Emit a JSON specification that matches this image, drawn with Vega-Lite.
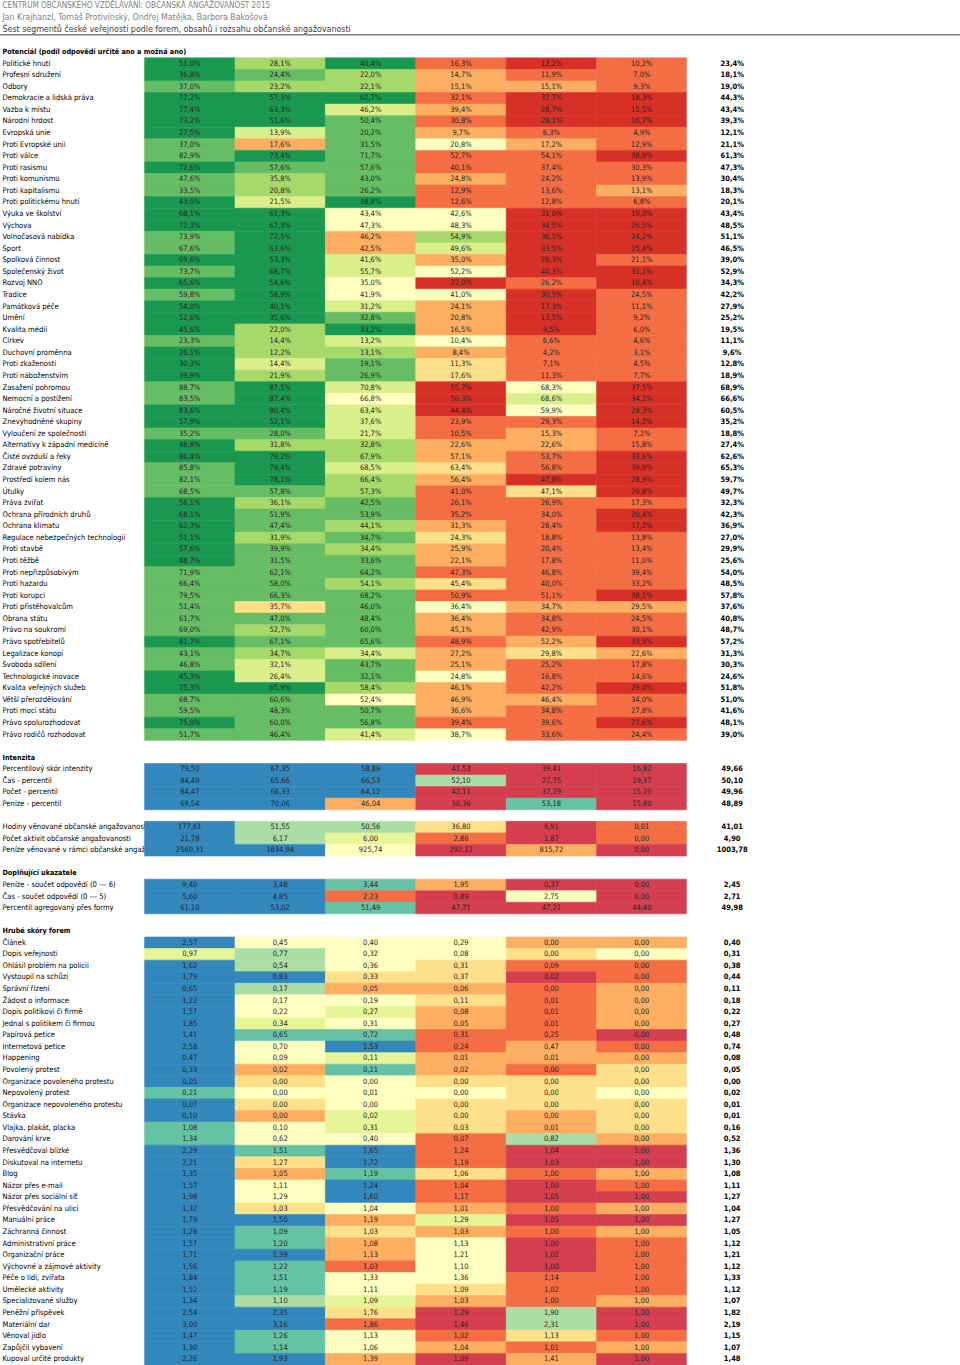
{
  "$schema": "https://vega.github.io/schema/vega-lite/v6.json",
  "width": 960,
  "height": 1365,
  "padding": 0,
  "autosize": {"type": "none"},
  "background": "#ffffff",
  "config": {
    "view": {"stroke": null},
    "font": "DejaVu Sans Condensed, DejaVu Sans, sans-serif",
    "locale": {"number": {"decimal": ",", "thousands": " ", "grouping": [3], "currency": ["", ""]}}
  },
  "data": {"values": [
    {"l": "CENTRUM OBČANSKÉHO VZDĚLÁVÁNÍ: OBČANSKÁ ANGAŽOVANOST 2015", "g": "h", "s": ["T"], "v": [null], "k": [0]},
    {"l": "Jan Krajhanzl, Tomáš Protivínský, Ondřej Matějka, Barbora Bakošová", "g": "h", "s": ["T"], "v": [null], "k": [0]},
    {"l": "Šest segmentů české veřejnosti podle forem, obsahů i rozsahu občanské angažovanosti", "g": "h", "s": ["T"], "v": [null], "k": [0]},
    {"l": " ", "g": "h", "s": ["T"], "v": [null], "k": [0]},
    {"l": "Potenciál (podíl odpovědí určitě ano a možná ano)", "g": "h", "s": ["T"], "v": [null], "k": [0]},
    {"l": "Politické hnutí", "g": "p", "s": ["A","B","C","D","E","F","T"], "v": [0.510,0.281,0.404,0.163,0.122,0.102,0.234], "k": [9,7,9,2,1,2,0]},
    {"l": "Profesní sdružení", "g": "p", "s": ["A","B","C","D","E","F","T"], "v": [0.368,0.244,0.220,0.147,0.119,0.070,0.181], "k": [9,8,7,3,2,2,0]},
    {"l": "Odbory", "g": "p", "s": ["A","B","C","D","E","F","T"], "v": [0.370,0.232,0.221,0.151,0.151,0.093,0.190], "k": [8,7,7,3,3,2,0]},
    {"l": "Demokracie a lidská práva", "g": "p", "s": ["A","B","C","D","E","F","T"], "v": [0.772,0.573,0.627,0.321,0.327,0.183,0.443], "k": [9,9,9,2,1,1,0]},
    {"l": "Vazba k místu", "g": "p", "s": ["A","B","C","D","E","F","T"], "v": [0.774,0.633,0.462,0.394,0.287,0.155,0.434], "k": [9,9,6,3,1,1,0]},
    {"l": "Národní hrdost", "g": "p", "s": ["A","B","C","D","E","F","T"], "v": [0.732,0.516,0.504,0.308,0.281,0.167,0.393], "k": [9,9,8,2,1,1,0]},
    {"l": "Evropská unie", "g": "p", "s": ["A","B","C","D","E","F","T"], "v": [0.275,0.139,0.202,0.097,0.063,0.049,0.121], "k": [9,6,8,3,2,2,0]},
    {"l": "Proti Evropské unii", "g": "p", "s": ["A","B","C","D","E","F","T"], "v": [0.370,0.176,0.315,0.208,0.172,0.129,0.211], "k": [8,3,8,5,3,2,0]},
    {"l": "Proti válce", "g": "p", "s": ["A","B","C","D","E","F","T"], "v": [0.829,0.734,0.717,0.527,0.541,0.389,0.613], "k": [8,9,8,2,2,1,0]},
    {"l": "Proti rasismu", "g": "p", "s": ["A","B","C","D","E","F","T"], "v": [0.726,0.576,0.576,0.401,0.374,0.303,0.473], "k": [9,8,8,2,2,2,0]},
    {"l": "Proti komunismu", "g": "p", "s": ["A","B","C","D","E","F","T"], "v": [0.476,0.358,0.430,0.248,0.242,0.139,0.304], "k": [8,7,8,3,2,2,0]},
    {"l": "Proti kapitalismu", "g": "p", "s": ["A","B","C","D","E","F","T"], "v": [0.335,0.208,0.262,0.129,0.136,0.131,0.183], "k": [8,7,8,2,2,3,0]},
    {"l": "Proti politickému hnutí", "g": "p", "s": ["A","B","C","D","E","F","T"], "v": [0.430,0.215,0.388,0.126,0.128,0.068,0.201], "k": [9,6,9,2,2,2,0]},
    {"l": "Výuka ve školství", "g": "p", "s": ["A","B","C","D","E","F","T"], "v": [0.681,0.613,0.434,0.426,0.310,0.190,0.434], "k": [9,9,5,5,1,1,0]},
    {"l": "Výchova", "g": "p", "s": ["A","B","C","D","E","F","T"], "v": [0.723,0.673,0.473,0.483,0.345,0.265,0.485], "k": [9,9,5,5,1,1,0]},
    {"l": "Volnočasová nabídka", "g": "p", "s": ["A","B","C","D","E","F","T"], "v": [0.739,0.725,0.462,0.549,0.361,0.242,0.511], "k": [8,9,3,7,1,1,0]},
    {"l": "Sport", "g": "p", "s": ["A","B","C","D","E","F","T"], "v": [0.676,0.636,0.425,0.496,0.335,0.254,0.465], "k": [8,9,3,6,1,1,0]},
    {"l": "Spolková činnost", "g": "p", "s": ["A","B","C","D","E","F","T"], "v": [0.696,0.533,0.416,0.350,0.263,0.211,0.390], "k": [9,9,6,3,1,2,0]},
    {"l": "Společenský život", "g": "p", "s": ["A","B","C","D","E","F","T"], "v": [0.737,0.687,0.557,0.522,0.403,0.311,0.529], "k": [8,9,6,5,1,1,0]},
    {"l": "Rozvoj NNO", "g": "p", "s": ["A","B","C","D","E","F","T"], "v": [0.656,0.546,0.350,0.220,0.262,0.104,0.343], "k": [9,9,5,1,2,1,0]},
    {"l": "Tradice", "g": "p", "s": ["A","B","C","D","E","F","T"], "v": [0.598,0.589,0.419,0.410,0.305,0.245,0.422], "k": [8,9,5,5,1,2,0]},
    {"l": "Památková péče", "g": "p", "s": ["A","B","C","D","E","F","T"], "v": [0.540,0.401,0.312,0.241,0.173,0.111,0.279], "k": [9,9,6,3,1,2,0]},
    {"l": "Umění", "g": "p", "s": ["A","B","C","D","E","F","T"], "v": [0.526,0.356,0.328,0.208,0.135,0.092,0.252], "k": [9,9,8,3,1,2,0]},
    {"l": "Kvalita médií", "g": "p", "s": ["A","B","C","D","E","F","T"], "v": [0.456,0.220,0.332,0.165,0.095,0.060,0.195], "k": [9,7,9,3,1,2,0]},
    {"l": "Církev", "g": "p", "s": ["A","B","C","D","E","F","T"], "v": [0.233,0.144,0.132,0.104,0.066,0.046,0.111], "k": [8,7,6,5,2,2,0]},
    {"l": "Duchovní proměnna", "g": "p", "s": ["A","B","C","D","E","F","T"], "v": [0.261,0.122,0.131,0.084,0.042,0.031,0.096], "k": [9,7,7,3,2,2,0]},
    {"l": "Proti zkaženosti", "g": "p", "s": ["A","B","C","D","E","F","T"], "v": [0.303,0.144,0.191,0.113,0.071,0.045,0.128], "k": [9,6,8,4,2,2,0]},
    {"l": "Proti náboženstvím", "g": "p", "s": ["A","B","C","D","E","F","T"], "v": [0.399,0.219,0.269,0.176,0.113,0.077,0.189], "k": [9,7,8,4,2,2,0]},
    {"l": "Zasažení pohromou", "g": "p", "s": ["A","B","C","D","E","F","T"], "v": [0.887,0.875,0.708,0.557,0.683,0.375,0.689], "k": [8,9,6,1,5,1,0]},
    {"l": "Nemocní a postižení", "g": "p", "s": ["A","B","C","D","E","F","T"], "v": [0.835,0.874,0.668,0.503,0.686,0.342,0.666], "k": [8,9,5,1,6,1,0]},
    {"l": "Náročné životní situace", "g": "p", "s": ["A","B","C","D","E","F","T"], "v": [0.836,0.804,0.634,0.444,0.599,0.283,0.605], "k": [9,9,6,1,5,1,0]},
    {"l": "Znevýhodněné skupiny", "g": "p", "s": ["A","B","C","D","E","F","T"], "v": [0.579,0.521,0.376,0.239,0.293,0.142,0.352], "k": [9,9,6,2,2,1,0]},
    {"l": "Vyloučení ze společnosti", "g": "p", "s": ["A","B","C","D","E","F","T"], "v": [0.352,0.280,0.217,0.105,0.153,0.072,0.188], "k": [8,8,6,2,3,2,0]},
    {"l": "Alternativy k západní medicíně", "g": "p", "s": ["A","B","C","D","E","F","T"], "v": [0.488,0.318,0.328,0.226,0.226,0.158,0.274], "k": [9,7,7,3,3,2,0]},
    {"l": "Čisté ovzduší a řeky", "g": "p", "s": ["A","B","C","D","E","F","T"], "v": [0.864,0.792,0.679,0.571,0.537,0.336,0.626], "k": [9,9,7,3,2,1,0]},
    {"l": "Zdravé potraviny", "g": "p", "s": ["A","B","C","D","E","F","T"], "v": [0.858,0.794,0.685,0.634,0.568,0.399,0.653], "k": [8,9,6,4,2,1,0]},
    {"l": "Prostředí kolem nás", "g": "p", "s": ["A","B","C","D","E","F","T"], "v": [0.821,0.781,0.664,0.564,0.478,0.289,0.597], "k": [8,9,7,3,1,1,0]},
    {"l": "Útulky", "g": "p", "s": ["A","B","C","D","E","F","T"], "v": [0.685,0.578,0.573,0.410,0.471,0.298,0.497], "k": [8,8,7,2,4,1,0]},
    {"l": "Práva zvířat", "g": "p", "s": ["A","B","C","D","E","F","T"], "v": [0.561,0.361,0.425,0.261,0.269,0.173,0.323], "k": [9,7,8,2,2,2,0]},
    {"l": "Ochrana přírodních druhů", "g": "p", "s": ["A","B","C","D","E","F","T"], "v": [0.681,0.519,0.539,0.352,0.340,0.204,0.423], "k": [9,8,8,2,2,1,0]},
    {"l": "Ochrana klimatu", "g": "p", "s": ["A","B","C","D","E","F","T"], "v": [0.623,0.474,0.441,0.313,0.284,0.172,0.369], "k": [9,8,7,3,2,1,0]},
    {"l": "Regulace nebezpečných technologií", "g": "p", "s": ["A","B","C","D","E","F","T"], "v": [0.511,0.319,0.347,0.243,0.188,0.138,0.270], "k": [9,7,8,4,2,2,0]},
    {"l": "Proti stavbě", "g": "p", "s": ["A","B","C","D","E","F","T"], "v": [0.576,0.399,0.344,0.259,0.204,0.134,0.299], "k": [9,8,7,3,2,2,0]},
    {"l": "Proti těžbě", "g": "p", "s": ["A","B","C","D","E","F","T"], "v": [0.487,0.315,0.336,0.221,0.178,0.110,0.256], "k": [9,8,8,3,2,2,0]},
    {"l": "Proti nepřizpůsobivým", "g": "p", "s": ["A","B","C","D","E","F","T"], "v": [0.719,0.621,0.642,0.473,0.468,0.394,0.540], "k": [8,8,8,2,2,2,0]},
    {"l": "Proti hazardu", "g": "p", "s": ["A","B","C","D","E","F","T"], "v": [0.664,0.580,0.541,0.454,0.400,0.332,0.485], "k": [8,8,7,4,2,2,0]},
    {"l": "Proti korupci", "g": "p", "s": ["A","B","C","D","E","F","T"], "v": [0.795,0.663,0.682,0.509,0.511,0.381,0.578], "k": [8,8,8,2,2,1,0]},
    {"l": "Proti přistěhovalcům", "g": "p", "s": ["A","B","C","D","E","F","T"], "v": [0.514,0.357,0.460,0.364,0.347,0.295,0.376], "k": [8,4,8,5,3,3,0]},
    {"l": "Obrana státu", "g": "p", "s": ["A","B","C","D","E","F","T"], "v": [0.617,0.470,0.484,0.364,0.348,0.245,0.408], "k": [8,8,8,3,2,2,0]},
    {"l": "Právo na soukromí", "g": "p", "s": ["A","B","C","D","E","F","T"], "v": [0.690,0.527,0.600,0.451,0.429,0.301,0.487], "k": [8,7,8,3,2,2,0]},
    {"l": "Právo spotřebitelů", "g": "p", "s": ["A","B","C","D","E","F","T"], "v": [0.817,0.671,0.656,0.489,0.522,0.339,0.572], "k": [9,8,8,2,3,1,0]},
    {"l": "Legalizace konopí", "g": "p", "s": ["A","B","C","D","E","F","T"], "v": [0.431,0.347,0.344,0.272,0.298,0.226,0.313], "k": [8,7,6,3,4,3,0]},
    {"l": "Svoboda sdílení", "g": "p", "s": ["A","B","C","D","E","F","T"], "v": [0.468,0.321,0.437,0.251,0.252,0.178,0.303], "k": [8,6,8,3,2,2,0]},
    {"l": "Technologické inovace", "g": "p", "s": ["A","B","C","D","E","F","T"], "v": [0.453,0.264,0.321,0.248,0.168,0.146,0.246], "k": [9,6,8,5,2,2,0]},
    {"l": "Kvalita veřejných služeb", "g": "p", "s": ["A","B","C","D","E","F","T"], "v": [0.753,0.659,0.584,0.461,0.422,0.290,0.518], "k": [9,9,7,3,2,1,0]},
    {"l": "Větší přerozdělování", "g": "p", "s": ["A","B","C","D","E","F","T"], "v": [0.687,0.606,0.524,0.469,0.464,0.340,0.510], "k": [8,8,5,3,3,2,0]},
    {"l": "Proti moci státu", "g": "p", "s": ["A","B","C","D","E","F","T"], "v": [0.595,0.483,0.507,0.366,0.348,0.278,0.416], "k": [8,8,8,3,2,2,0]},
    {"l": "Právo spolurozhodovat", "g": "p", "s": ["A","B","C","D","E","F","T"], "v": [0.750,0.600,0.568,0.394,0.396,0.276,0.481], "k": [9,8,8,2,2,1,0]},
    {"l": "Právo rodičů rozhodovat", "g": "p", "s": ["A","B","C","D","E","F","T"], "v": [0.517,0.464,0.414,0.387,0.336,0.244,0.390], "k": [8,8,6,5,2,2,0]},
    {"l": "  ", "g": "h", "s": ["T"], "v": [null], "k": [0]},
    {"l": "Intenzita", "g": "h", "s": ["T"], "v": [null], "k": [0]},
    {"l": "Percentilový skór intenzity", "g": "n", "s": ["A","B","C","D","E","F","T"], "v": [79.50,67.35,58.89,41.53,39.41,16.82,49.66], "k": [19,19,19,11,11,11,0]},
    {"l": "Čas - percentil", "g": "n", "s": ["A","B","C","D","E","F","T"], "v": [84.49,65.66,66.53,52.10,27.75,19.37,50.10], "k": [19,19,19,17,11,11,0]},
    {"l": "Počet - percentil", "g": "n", "s": ["A","B","C","D","E","F","T"], "v": [84.47,66.33,64.12,42.11,37.29,15.20,49.96], "k": [19,19,19,11,11,11,0]},
    {"l": "Penize - percentil", "g": "n", "s": ["A","B","C","D","E","F","T"], "v": [69.54,70.06,46.04,30.36,53.18,15.80,48.89], "k": [19,19,13,11,18,11,0]},
    {"l": "   ", "g": "h", "s": ["T"], "v": [null], "k": [0]},
    {"l": "Hodiny věnované občanské angažovanosti", "g": "n", "s": ["A","B","C","D","E","F","T"], "v": [177.61,51.55,50.56,36.80,6.91,0.01,41.01], "k": [19,17,17,14,11,12,0]},
    {"l": "Počet aktivit občanské angažovanosti", "g": "n", "s": ["A","B","C","D","E","F","T"], "v": [21.78,6.17,6.00,2.86,1.87,0.00,4.90], "k": [19,17,16,12,11,12,0]},
    {"l": "Peníze věnované v rámci občanské angažovanosti", "g": "n", "s": ["A","B","C","D","E","F","T"], "v": [2560.31,1834.94,925.74,292.12,815.72,0.00,1003.78], "k": [19,19,15,11,13,11,0]},
    {"l": "    ", "g": "h", "s": ["T"], "v": [null], "k": [0]},
    {"l": "Doplňující ukazatele", "g": "h", "s": ["T"], "v": [null], "k": [0]},
    {"l": "Peníze - součet odpovědí (0 --- 6)", "g": "n", "s": ["A","B","C","D","E","F","T"], "v": [9.40,3.48,3.44,1.95,0.37,0.00,2.45], "k": [19,19,18,13,11,11,0]},
    {"l": "Čas - součet odpovědí (0 --- 5)", "g": "n", "s": ["A","B","C","D","E","F","T"], "v": [5.60,4.85,2.23,0.89,2.75,0.00,2.71], "k": [19,19,12,11,15,11,0]},
    {"l": "Percentil agregovaný přes formy", "g": "n", "s": ["A","B","C","D","E","F","T"], "v": [61.10,53.02,51.49,47.71,47.21,44.40,49.98], "k": [19,19,18,11,11,11,0]},
    {"l": "     ", "g": "h", "s": ["T"], "v": [null], "k": [0]},
    {"l": "Hrubé skóry forem", "g": "h", "s": ["T"], "v": [null], "k": [0]},
    {"l": "Článek", "g": "n", "s": ["A","B","C","D","E","F","T"], "v": [2.57,0.45,0.40,0.29,0.00,0.00,0.40], "k": [19,15,15,15,13,13,0]},
    {"l": "Dopis veřejnosti", "g": "n", "s": ["A","B","C","D","E","F","T"], "v": [0.97,0.77,0.32,0.08,0.00,0.00,0.31], "k": [16,17,15,15,14,15,0]},
    {"l": "Ohlásil problém na policii", "g": "n", "s": ["A","B","C","D","E","F","T"], "v": [1.62,0.54,0.36,0.31,0.09,0.00,0.38], "k": [19,17,15,14,12,12,0]},
    {"l": "Vystoupil na schůzi", "g": "n", "s": ["A","B","C","D","E","F","T"], "v": [1.79,0.83,0.33,0.37,0.02,0.00,0.44], "k": [19,19,14,14,11,12,0]},
    {"l": "Správní řízení", "g": "n", "s": ["A","B","C","D","E","F","T"], "v": [0.65,0.17,0.05,0.06,0.00,0.00,0.11], "k": [19,17,13,13,12,13,0]},
    {"l": "Žádost o informace", "g": "n", "s": ["A","B","C","D","E","F","T"], "v": [1.22,0.17,0.19,0.11,0.01,0.00,0.18], "k": [19,15,15,14,12,13,0]},
    {"l": "Dopis politikovi či firmě", "g": "n", "s": ["A","B","C","D","E","F","T"], "v": [1.57,0.22,0.27,0.08,0.01,0.00,0.22], "k": [19,15,16,13,12,13,0]},
    {"l": "Jednal s politikem či firmou", "g": "n", "s": ["A","B","C","D","E","F","T"], "v": [1.85,0.34,0.31,0.05,0.01,0.00,0.27], "k": [19,16,15,13,12,13,0]},
    {"l": "Papírová petice", "g": "n", "s": ["A","B","C","D","E","F","T"], "v": [1.41,0.65,0.72,0.31,0.25,0.00,0.48], "k": [19,18,18,12,12,11,0]},
    {"l": "Internetová petice", "g": "n", "s": ["A","B","C","D","E","F","T"], "v": [2.58,0.70,1.53,0.24,0.47,0.00,0.74], "k": [19,15,19,12,13,12,0]},
    {"l": "Happening", "g": "n", "s": ["A","B","C","D","E","F","T"], "v": [0.47,0.09,0.11,0.01,0.01,0.00,0.08], "k": [19,15,16,13,13,13,0]},
    {"l": "Povolený protest", "g": "n", "s": ["A","B","C","D","E","F","T"], "v": [0.33,0.02,0.11,0.02,0.00,0.00,0.05], "k": [19,13,18,13,12,14,0]},
    {"l": "Organizace povoleného protestu", "g": "n", "s": ["A","B","C","D","E","F","T"], "v": [0.05,0.00,0.00,0.00,0.00,0.00,0.00], "k": [19,14,15,14,14,14,0]},
    {"l": "Nepovolený protest", "g": "n", "s": ["A","B","C","D","E","F","T"], "v": [0.21,0.00,0.01,0.00,0.00,0.00,0.02], "k": [18,15,15,15,14,15,0]},
    {"l": "Organizace nepovoleného protestu", "g": "n", "s": ["A","B","C","D","E","F","T"], "v": [0.07,0.00,0.00,0.00,0.00,0.00,0.01], "k": [19,14,15,14,14,14,0]},
    {"l": "Stávka", "g": "n", "s": ["A","B","C","D","E","F","T"], "v": [0.10,0.00,0.02,0.00,0.00,0.00,0.01], "k": [19,13,16,14,13,14,0]},
    {"l": "Vlajka, plakát, placka", "g": "n", "s": ["A","B","C","D","E","F","T"], "v": [1.08,0.10,0.31,0.03,0.01,0.00,0.16], "k": [18,15,16,14,13,14,0]},
    {"l": "Darování krve", "g": "n", "s": ["A","B","C","D","E","F","T"], "v": [1.34,0.62,0.40,0.07,0.82,0.00,0.52], "k": [18,15,15,12,17,13,0]},
    {"l": "Přesvědčoval blízké", "g": "n", "s": ["A","B","C","D","E","F","T"], "v": [2.29,1.51,1.65,1.24,1.04,1.00,1.36], "k": [19,18,19,12,11,11,0]},
    {"l": "Diskutoval na internetu", "g": "n", "s": ["A","B","C","D","E","F","T"], "v": [2.21,1.27,1.72,1.19,1.03,1.00,1.30], "k": [19,14,19,12,11,11,0]},
    {"l": "Blog", "g": "n", "s": ["A","B","C","D","E","F","T"], "v": [1.35,1.05,1.19,1.06,1.00,1.00,1.08], "k": [19,13,18,14,12,13,0]},
    {"l": "Názor přes e-mail", "g": "n", "s": ["A","B","C","D","E","F","T"], "v": [1.57,1.11,1.24,1.04,1.00,1.00,1.11], "k": [19,15,19,12,11,12,0]},
    {"l": "Názor přes sociální síť", "g": "n", "s": ["A","B","C","D","E","F","T"], "v": [1.98,1.29,1.60,1.17,1.05,1.00,1.27], "k": [19,15,19,12,11,11,0]},
    {"l": "Přesvědčování na ulici", "g": "n", "s": ["A","B","C","D","E","F","T"], "v": [1.32,1.03,1.04,1.01,1.00,1.00,1.04], "k": [19,14,15,13,12,13,0]},
    {"l": "Manuální práce", "g": "n", "s": ["A","B","C","D","E","F","T"], "v": [1.79,1.50,1.19,1.29,1.05,1.00,1.27], "k": [19,19,13,16,11,11,0]},
    {"l": "Záchranná činnost", "g": "n", "s": ["A","B","C","D","E","F","T"], "v": [1.28,1.09,1.03,1.03,1.00,1.00,1.05], "k": [19,18,14,13,12,13,0]},
    {"l": "Administrativní práce", "g": "n", "s": ["A","B","C","D","E","F","T"], "v": [1.57,1.20,1.08,1.13,1.00,1.00,1.12], "k": [19,18,13,15,11,12,0]},
    {"l": "Organizační práce", "g": "n", "s": ["A","B","C","D","E","F","T"], "v": [1.71,1.39,1.13,1.21,1.02,1.00,1.21], "k": [19,19,13,15,11,12,0]},
    {"l": "Výchovné a zájmové aktivity", "g": "n", "s": ["A","B","C","D","E","F","T"], "v": [1.56,1.22,1.03,1.10,1.00,1.00,1.12], "k": [19,18,12,15,11,12,0]},
    {"l": "Péče o lidi, zvířata", "g": "n", "s": ["A","B","C","D","E","F","T"], "v": [1.84,1.51,1.33,1.36,1.14,1.00,1.33], "k": [19,18,15,15,12,12,0]},
    {"l": "Umělecké aktivity", "g": "n", "s": ["A","B","C","D","E","F","T"], "v": [1.52,1.19,1.11,1.09,1.02,1.00,1.12], "k": [19,18,15,14,12,12,0]},
    {"l": "Specializované služby", "g": "n", "s": ["A","B","C","D","E","F","T"], "v": [1.34,1.10,1.09,1.03,1.00,1.00,1.07], "k": [19,17,16,13,12,13,0]},
    {"l": "Peněžní příspěvek", "g": "n", "s": ["A","B","C","D","E","F","T"], "v": [2.54,2.35,1.76,1.29,1.90,1.00,1.82], "k": [19,19,14,11,17,11,0]},
    {"l": "Materiální dar", "g": "n", "s": ["A","B","C","D","E","F","T"], "v": [3.00,3.16,1.86,1.46,2.31,1.00,2.19], "k": [19,19,12,11,17,11,0]},
    {"l": "Věnoval jídlo", "g": "n", "s": ["A","B","C","D","E","F","T"], "v": [1.47,1.26,1.13,1.02,1.13,1.00,1.15], "k": [19,18,15,12,14,12,0]},
    {"l": "Zapůjčil vybavení", "g": "n", "s": ["A","B","C","D","E","F","T"], "v": [1.30,1.14,1.06,1.04,1.01,1.00,1.07], "k": [19,18,15,13,12,13,0]},
    {"l": "Kupoval určité produkty", "g": "n", "s": ["A","B","C","D","E","F","T"], "v": [2.26,1.93,1.39,1.09,1.41,1.00,1.48], "k": [19,19,13,11,13,11,0]}
  ]},
  "transform": [{"flatten": ["s", "v", "k"]}],
  "encoding": {
    "y": {
      "field": "l", "type": "nominal", "sort": null,
      "scale": {"paddingInner": 0, "paddingOuter": 0},
      "axis": {
        "orient": "left", "title": null, "domain": false, "ticks": false, "tickSize": 0, "grid": false,
        "labelPadding": -2, "labelAlign": "left", "labelBaseline": "middle", "labelLimit": 2000,
        "labelOverlap": false, "labelBound": false, "zindex": 0,
        "labelFont": "DejaVu Sans Condensed, DejaVu Sans, sans-serif",
        "labelFontSize": {"condition": [
          {"test": "indexof(datum.value, 'CENTRUM') == 0", "value": 8.1},
          {"test": "indexof(datum.value, 'Jan Kraj') == 0", "value": 8.7},
          {"test": "indexof(datum.value, 'Šest') == 0", "value": 8.8},
          {"test": "indexof(datum.value, 'Potenciál') == 0 || datum.value == 'Intenzita' || datum.value == 'Doplňující ukazatele' || datum.value == 'Hrubé skóry forem'", "value": 7.2}
        ], "value": 7.6},
        "labelColor": {"condition": [{"test": "indexof(datum.value, 'Šest') == 0", "value": "#404040"}, {"test": "indexof(datum.value, 'CENTRUM') == 0 || indexof(datum.value, 'Jan Kraj') == 0", "value": "#7f7f7f"}], "value": "#000000"},
        "labelFontWeight": {"condition": {"test": "indexof(datum.value, 'Potenciál') == 0 || datum.value == 'Intenzita' || datum.value == 'Doplňující ukazatele' || datum.value == 'Hrubé skóry forem'", "value": "bold"}, "value": "normal"}
      }
    }
  },
  "layer": [
    {
      "mark": {"type": "rect", "strokeWidth": 0.6},
      "encoding": {
        "x": {"field": "s", "type": "nominal", "axis": null,
              "scale": {"type": "band", "domain": ["A","B","C","D","E","F","T"], "range": [144.6, 777.4], "paddingInner": 0, "paddingOuter": 0}},
        "color": {"field": "k", "type": "nominal", "legend": null,
                  "scale": {"domain": [0,1,2,3,4,5,6,7,8,9,11,12,13,14,15,16,17,18,19],
                            "range": ["#ffffff","#d73027","#f46d43","#fdae61","#fee08b","#ffffbf","#d9ef8b","#a6d96a","#66bd63","#1a9850","#d53e4f","#f46d43","#fdae61","#fee08b","#ffffbf","#e6f598","#abdda4","#66c2a5","#3288bd"]}},
        "stroke": {"field": "k", "type": "nominal", "legend": null,
                   "scale": {"domain": [0,1,2,3,4,5,6,7,8,9,11,12,13,14,15,16,17,18,19],
                             "range": ["#ffffff","#d73027","#f46d43","#fdae61","#fee08b","#ffffbf","#d9ef8b","#a6d96a","#66bd63","#1a9850","#d53e4f","#f46d43","#fdae61","#fee08b","#ffffbf","#e6f598","#abdda4","#66c2a5","#3288bd"]}}
      }
    },
    {
      "transform": [{"filter": {"field": "l", "equal": "Šest segmentů české veřejnosti podle forem, obsahů i rozsahu občanské angažovanosti"}}],
      "mark": {"type": "rule", "color": "#7f7f7f", "strokeWidth": 1.5},
      "encoding": {"y": {"field": "l", "type": "nominal", "sort": null, "bandPosition": 1}}
    },
    {
      "transform": [{"filter": {"and": [{"field": "g", "equal": "p"}, {"not": {"field": "s", "equal": "T"}}]}}],
      "mark": {"type": "text", "fontSize": 7.5, "color": "#262626"},
      "encoding": {"x": {"field": "s", "type": "nominal"}, "text": {"field": "v", "type": "quantitative", "format": ".1%"}}
    },
    {
      "transform": [{"filter": {"and": [{"field": "g", "equal": "p"}, {"field": "s", "equal": "T"}]}}],
      "mark": {"type": "text", "fontSize": 7.5, "fontWeight": "bold", "color": "#000000"},
      "encoding": {"x": {"field": "s", "type": "nominal"}, "text": {"field": "v", "type": "quantitative", "format": ".1%"}}
    },
    {
      "transform": [{"filter": {"and": [{"field": "g", "equal": "n"}, {"not": {"field": "s", "equal": "T"}}]}}],
      "mark": {"type": "text", "fontSize": 7.5, "color": "#262626"},
      "encoding": {"x": {"field": "s", "type": "nominal"}, "text": {"field": "v", "type": "quantitative", "format": ".2f"}}
    },
    {
      "transform": [{"filter": {"and": [{"field": "g", "equal": "n"}, {"field": "s", "equal": "T"}]}}],
      "mark": {"type": "text", "fontSize": 7.5, "fontWeight": "bold", "color": "#000000"},
      "encoding": {"x": {"field": "s", "type": "nominal"}, "text": {"field": "v", "type": "quantitative", "format": ".2f"}}
    }
  ]
}
